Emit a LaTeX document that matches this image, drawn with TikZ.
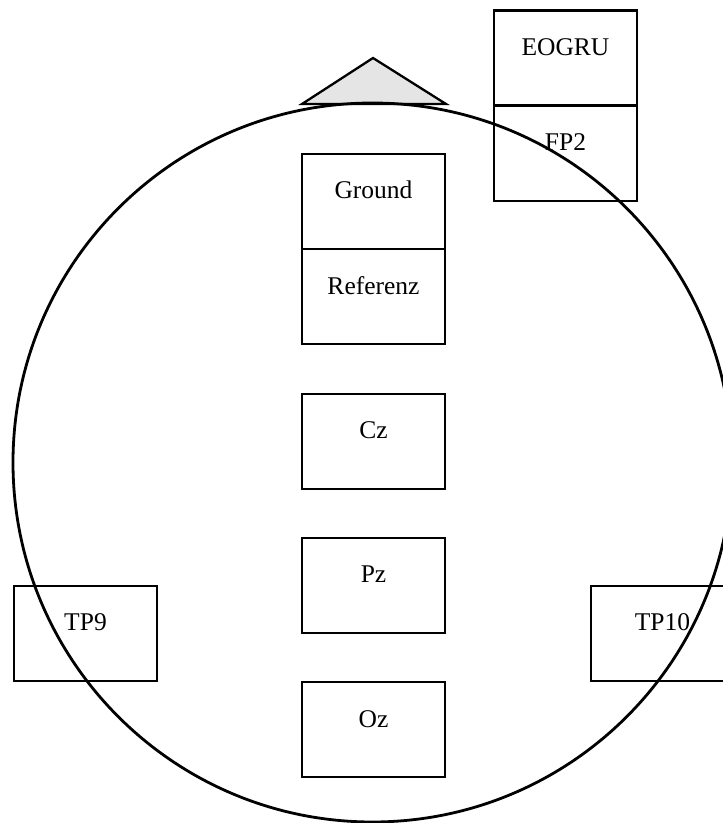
\documentclass[tikz,border=0pt]{standalone}
\usepackage{fontspec}
\setmainfont{Liberation Serif}
\begin{document}
\begin{tikzpicture}[x=1pt,y=1pt,
  box/.style={draw, line width=2.3pt, minimum width=143pt, minimum height=95pt, inner sep=0pt, outer sep=0pt},
  lbl/.style={font=\fontsize{25.5}{30}\selectfont, anchor=base, inner sep=0pt}]
\useasboundingbox (0,0) rectangle (723,823);
% nose triangle
\coordinate (apex) at (373,765);
\coordinate (bl) at (302,719);
\coordinate (br) at (446,719);
\draw[line width=2.3pt, fill=black!10, line join=miter] (bl) -- (apex) -- (br) -- cycle;
% boxes
\node[box] (eogru) at (565.5,765) {};
\node[box] (fp2) at (565.5,669.5) {};
\node[box] (ground) at (373.5,621.5) {};
\node[box] (ref) at (373.5,526.5) {};
\node[box] (cz) at (373.5,381.5) {};
\node[box] (pz) at (373.5,237.5) {};
\node[box] (oz) at (373.5,93.5) {};
\node[box] (tp9) at (85.5,189.5) {};
\node[box] (tp10) at (662.5,189.5) {};
% labels
\node[lbl] at ([yshift=-45pt]eogru.north) {EOGRU};
\node[lbl] at ([yshift=-45pt]fp2.north) {FP2};
\node[lbl] at ([yshift=-45pt]ground.north) {Ground};
\node[lbl] at ([yshift=-46pt]ref.north) {Referenz};
\node[lbl] at ([yshift=-45pt]cz.north) {Cz};
\node[lbl] at ([yshift=-45pt]pz.north) {Pz};
\node[lbl] at ([yshift=-46pt]oz.north) {Oz};
\node[lbl] at ([yshift=-45pt]tp9.north) {TP9};
\node[lbl] at ([yshift=-45pt]tp10.north) {TP10};
% head outline
\coordinate (head) at (372.5,360.5);
\draw[line width=2.8pt] (head) circle[radius=359.5];
\end{tikzpicture}
\end{document}
